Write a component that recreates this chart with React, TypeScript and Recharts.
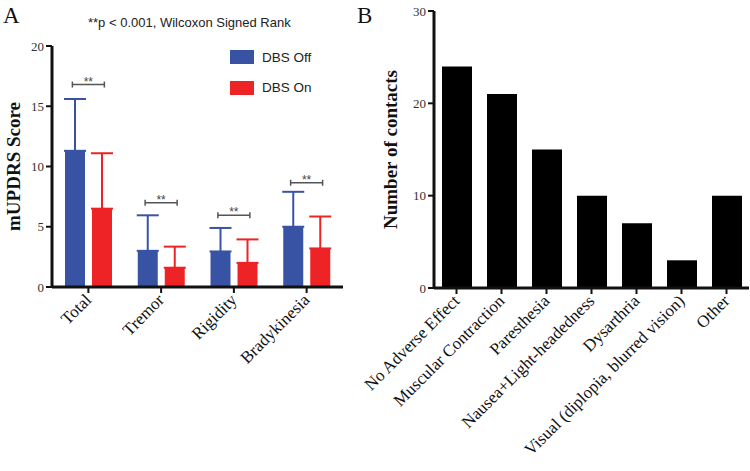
import React from "react";
import {
  ComposedChart,
  BarChart,
  Bar,
  XAxis,
  YAxis,
  ErrorBar,
  Scatter,
  Legend,
} from "recharts";

// panel A: mUPDRS scores, DBS off vs on (mean + SD)
const symptomCategories = ["Total", "Tremor", "Rigidity", "Bradykinesia"];
const dbsOffMeans = [11.3, 3.0, 2.95, 5.0];
const dbsOffSd = [4.3, 2.95, 1.95, 2.9];
const dbsOnMeans = [6.5, 1.6, 2.0, 3.2];
const dbsOnSd = [4.6, 1.75, 1.95, 2.65];
const bracketLevels = [16.8, 7.0, 5.95, 8.65];
const scoreTicks = [0, 5, 10, 15, 20];

// panel B: adverse effects per contact
const effectCategories = [
  "No Adverse Effect",
  "Muscular Contraction",
  "Paresthesia",
  "Nausea+Light-headedness",
  "Dysarthria",
  "Visual (diplopia, blurred vision)",
  "Other",
];
const contactCounts = [24, 21, 15, 10, 7, 3, 10];
const contactTicks = [0, 10, 20, 30];

const BLUE = "#3953a4";
const RED = "#ee2326";
const SERIF = "Liberation Serif, Times New Roman, serif";
const SANS = "Liberation Sans, Arial, sans-serif";

const scoreData = symptomCategories.map((name, i) => ({
  name,
  off: dbsOffMeans[i],
  on: dbsOnMeans[i],
  offErr: [0, dbsOffSd[i]],
  onErr: [0, dbsOnSd[i]],
  bracket: bracketLevels[i],
}));

const contactData = effectCategories.map((name, i) => ({
  name,
  count: contactCounts[i],
}));

const SlantTick = (props: any) => {
  const { x, y, payload } = props;
  return (
    <g transform={`translate(${x + 4},${y + 6})`}>
      <text
        x={0}
        y={0}
        transform="rotate(-45)"
        textAnchor="end"
        fontSize={17}
        fontFamily={SERIF}
        fill="#111"
      >
        {payload.value}
      </text>
    </g>
  );
};

const YTitle = (props: any) => {
  const { viewBox, text, dx } = props;
  const cx = viewBox.x + dx;
  const cy = viewBox.y + viewBox.height / 2;
  return (
    <g transform={`translate(${cx},${cy})`}>
      <text
        x={0}
        y={0}
        transform="rotate(-90)"
        textAnchor="middle"
        dominantBaseline="central"
        fontSize={19}
        fontWeight="bold"
        fontFamily={SERIF}
        fill="#111"
      >
        {text}
      </text>
    </g>
  );
};

const Bracket = (props: any) => {
  const { cx, cy } = props;
  if (cx == null || cy == null) return null;
  const half = 16;
  return (
    <g>
      <line x1={cx - half} x2={cx + half} y1={cy} y2={cy} stroke="#555" strokeWidth={1.5} />
      <line x1={cx - half} x2={cx - half} y1={cy - 3} y2={cy + 3} stroke="#555" strokeWidth={1.5} />
      <line x1={cx + half} x2={cx + half} y1={cy - 3} y2={cy + 3} stroke="#555" strokeWidth={1.5} />
      <text x={cx} y={cy + 1} textAnchor="middle" fontSize={12} fontFamily={SANS} fill="#444">
        **
      </text>
    </g>
  );
};

const LegendBox = (props: any) => {
  const items = (props.payload || []).filter((p: any) => p.type !== "none");
  return (
    <div>
      {items.map((p: any) => (
        <div
          key={p.value}
          style={{ display: "flex", alignItems: "center", height: 30.5 }}
        >
          <span
            style={{
              display: "inline-block",
              width: 24,
              height: 14,
              background: p.color,
              marginRight: 8,
            }}
          />
          <span style={{ fontFamily: SANS, fontSize: 13.5, color: "#222" }}>
            {p.value}
          </span>
        </div>
      ))}
    </div>
  );
};

const axisLine = { stroke: "#111", strokeWidth: 3 };
const tickLine = { stroke: "#111", strokeWidth: 2 };
const yTick = { fontSize: 13, fontFamily: SERIF, fill: "#333" };

const App: React.FC = () => {
  return (
    <div
      style={{
        position: "absolute",
        left: 0,
        top: 0,
        width: 750,
        height: 471,
        background: "#fff",
        overflow: "hidden",
      }}
    >
      <div
        style={{
          position: "absolute",
          left: 3,
          top: 4,
          fontFamily: SERIF,
          fontSize: 23,
          lineHeight: "23px",
          color: "#111",
        }}
      >
        A
      </div>
      <div
        style={{
          position: "absolute",
          left: 357,
          top: 4,
          fontFamily: SERIF,
          fontSize: 23,
          lineHeight: "23px",
          color: "#111",
        }}
      >
        B
      </div>
      <div
        style={{
          position: "absolute",
          left: 88,
          top: 15,
          fontFamily: SANS,
          fontSize: 13,
          lineHeight: "15px",
          color: "#222",
          whiteSpace: "nowrap",
        }}
      >
        **p &lt; 0.001, Wilcoxon Signed Rank
      </div>

      <div style={{ position: "absolute", left: 0, top: 0 }}>
        <ComposedChart
          width={380}
          height={471}
          data={scoreData}
          margin={{ top: 46, right: 37, bottom: 154, left: 0 }}
          barSize={20}
          barGap={7}
        >
          <XAxis
            dataKey="name"
            height={30}
            axisLine={axisLine}
            tickLine={tickLine}
            tickSize={6}
            tick={<SlantTick />}
            interval={0}
          />
          <YAxis
            width={52}
            domain={[0, 20]}
            ticks={scoreTicks}
            axisLine={axisLine}
            tickLine={tickLine}
            tickSize={6}
            tick={yTick}
            label={<YTitle text="mUPDRS Score" dx={13} />}
          />
          <Legend
            layout="vertical"
            align="center"
            verticalAlign="middle"
            content={<LegendBox />}
            wrapperStyle={{ left: 230, top: 42, width: 110 }}
          />
          <Bar dataKey="off" name="DBS Off" fill={BLUE} isAnimationActive={false}>
            <ErrorBar dataKey="offErr" width={11} strokeWidth={2} stroke={BLUE} direction="y" />
          </Bar>
          <Bar dataKey="on" name="DBS On" fill={RED} isAnimationActive={false}>
            <ErrorBar dataKey="onErr" width={11} strokeWidth={2} stroke={RED} direction="y" />
          </Bar>
          <Scatter
            dataKey="bracket"
            legendType="none"
            shape={<Bracket />}
            isAnimationActive={false}
          />
        </ComposedChart>
      </div>

      <div style={{ position: "absolute", left: 350, top: 0 }}>
        <BarChart
          width={400}
          height={471}
          data={contactData}
          margin={{ top: 11, right: 1, bottom: 153, left: 0 }}
          barSize={30}
        >
          <XAxis
            dataKey="name"
            height={30}
            axisLine={axisLine}
            tickLine={tickLine}
            tickSize={6}
            tick={<SlantTick />}
            interval={0}
          />
          <YAxis
            width={84}
            domain={[0, 30]}
            ticks={contactTicks}
            axisLine={axisLine}
            tickLine={tickLine}
            tickSize={6}
            tick={yTick}
            label={<YTitle text="Number of contacts" dx={40} />}
          />
          <Bar dataKey="count" fill="#000" isAnimationActive={false} />
        </BarChart>
      </div>
    </div>
  );
};

export default App;
